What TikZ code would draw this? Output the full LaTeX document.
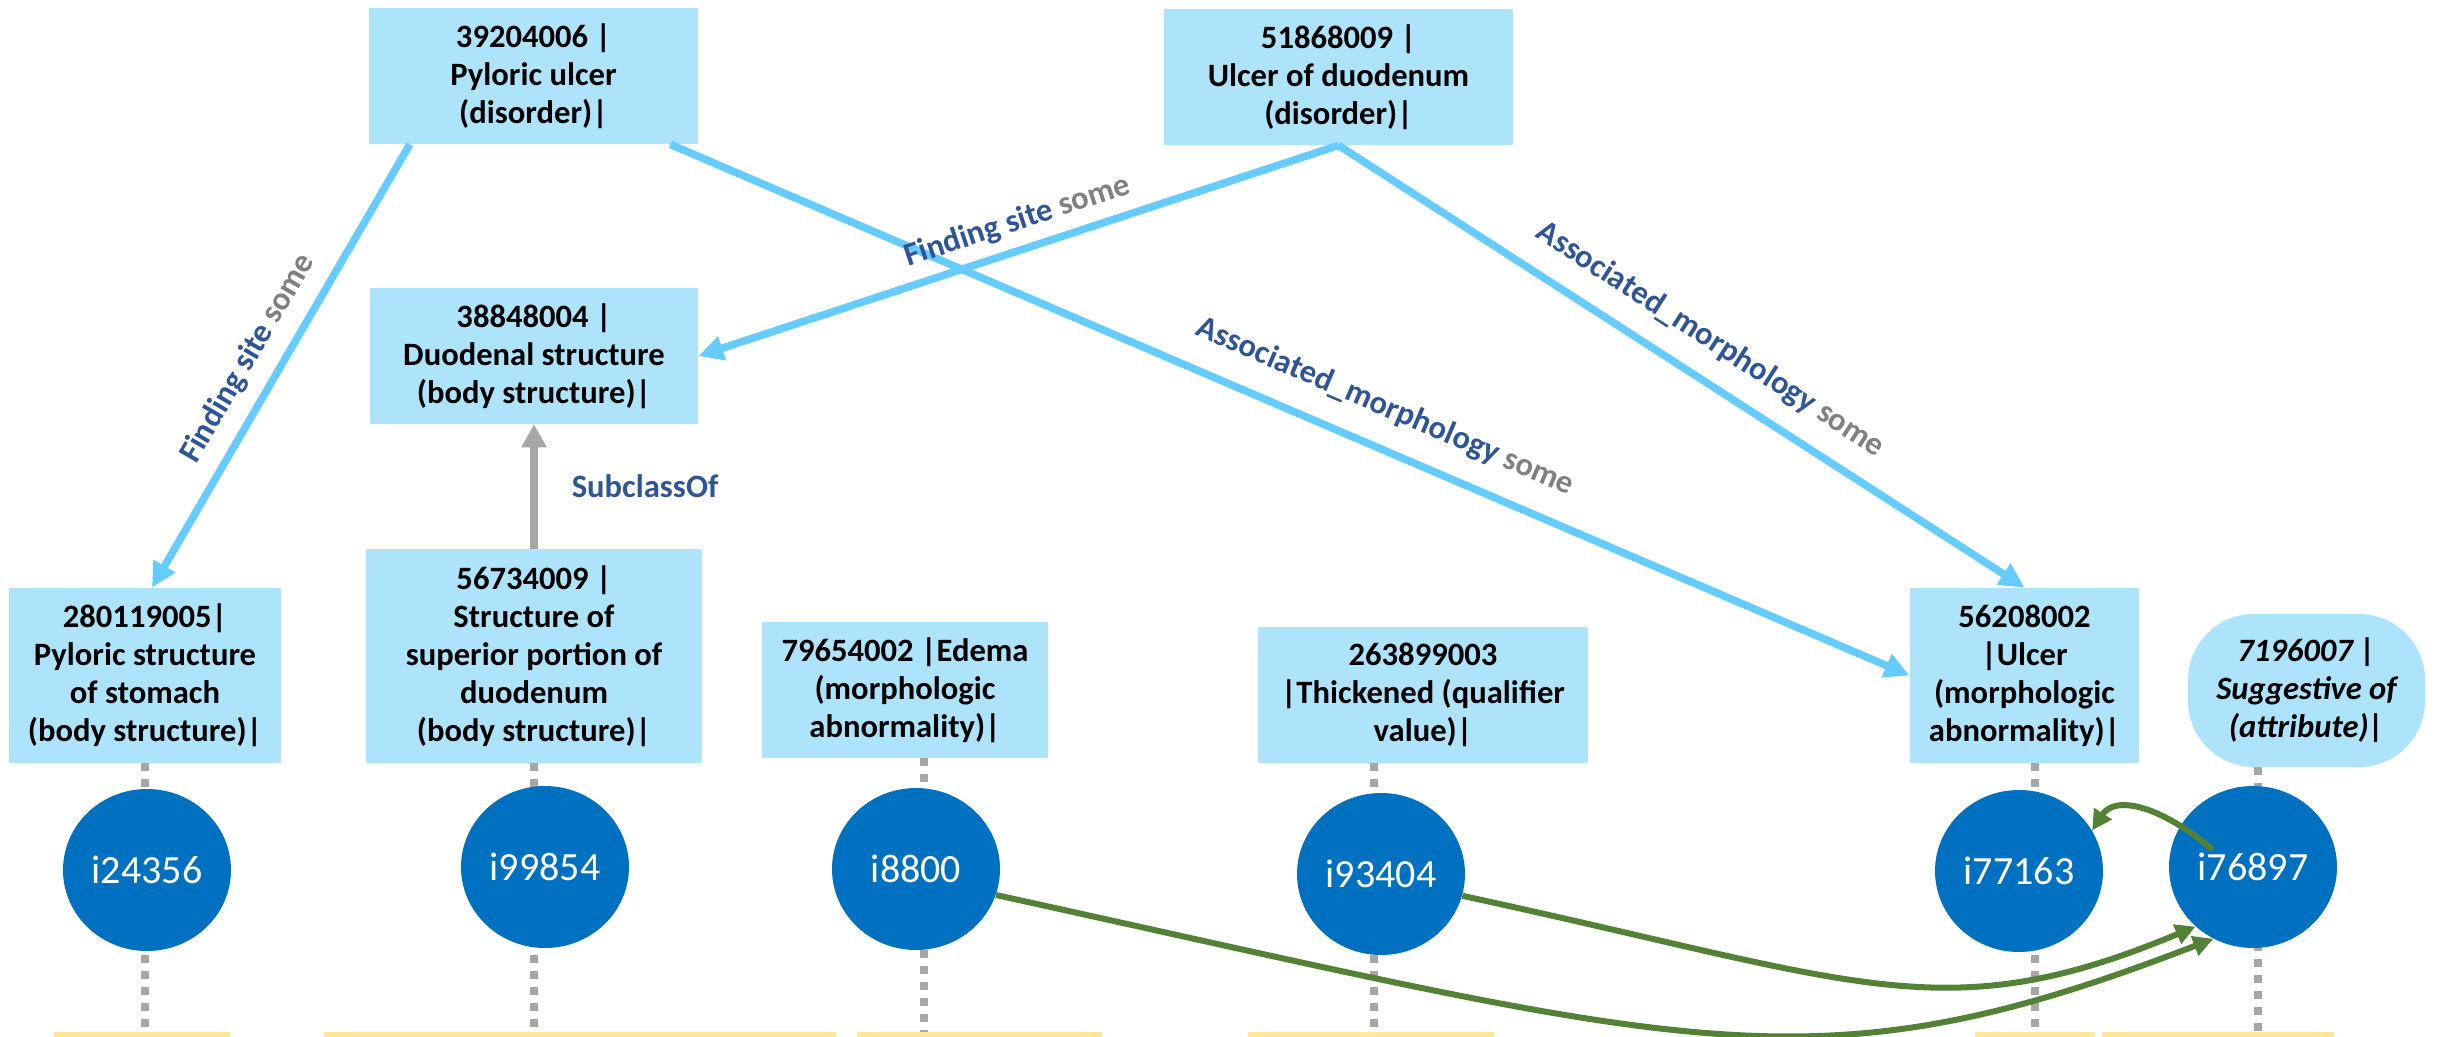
\documentclass[tikz,border=0pt]{standalone}
\usepackage{fontspec}
\setmainfont{Carlito}
\usetikzlibrary{arrows.meta,calc,shapes.geometric,backgrounds}
\definecolor{boxfill}{HTML}{AEE4FB}
\definecolor{indblue}{HTML}{0070C0}
\definecolor{relline}{HTML}{66CCFF}
\definecolor{reltext}{HTML}{2F5597}
\definecolor{sometext}{HTML}{808080}
\definecolor{dotgray}{HTML}{A6A6A6}
\definecolor{greenrel}{HTML}{538135}
\definecolor{baryellow}{HTML}{FFE699}
\newcommand{\relname}[1]{\textcolor{reltext}{#1}\ \textcolor{sometext}{some}}
\begin{document}
\begin{tikzpicture}[x=0.5pt,y=-0.5pt,
  concept/.style={rectangle,fill=boxfill,inner sep=0pt,align=center,
    font=\bfseries\fontsize{16.3pt}{19pt}\selectfont},
  attrib/.style={concept,rounded corners=33pt,
    font=\bfseries\itshape\fontsize{16.3pt}{19pt}\selectfont},
  indiv/.style={ellipse,fill=indblue,text=white,inner sep=0pt,
    minimum width=84pt,minimum height=81pt,font=\fontsize{20pt}{24pt}\selectfont},
  relarrow/.style={draw=relline,line width=3.8pt,-{Triangle[length=12.5pt,width=12pt]}},
  subarrow/.style={draw=dotgray,line width=3.8pt,-{Triangle[length=11.5pt,width=12pt]}},
  dotline/.style={draw=dotgray,line width=3.6pt,dash pattern=on 4pt off 4pt},
  indarrow/.style={draw=greenrel,line width=3pt,-{Triangle[length=10pt,width=10pt]}},
  rellabel/.style={sloped,inner sep=0pt,font=\bfseries\fontsize{16.3pt}{19pt}\selectfont},
  barstyle/.style={fill=baryellow,draw=none}
]
\useasboundingbox (0,0) rectangle (2451,1037);

% bottom bars
\fill[barstyle] (54,1032) rectangle (230,1037);
\fill[barstyle] (324,1032) rectangle (836,1037);
\fill[barstyle] (857,1032) rectangle (1102,1037);
\fill[barstyle] (1248,1032) rectangle (1494,1037);
\fill[barstyle] (1975,1032) rectangle (2095,1037);
\fill[barstyle] (2102,1032) rectangle (2334,1037);

% concepts
\node[concept,minimum width=164.5pt,minimum height=68pt] (A) at (533.5,76)
  {39204006 |\\Pyloric ulcer\\(disorder)|};
\node[concept,minimum width=174.5pt,minimum height=68pt] (B) at (1338.5,77)
  {51868009 |\\Ulcer of duodenum\\(disorder)|};
\node[concept,minimum width=164pt,minimum height=68pt] (D) at (534,356)
  {38848004 |\\Duodenal structure\\(body structure)|};
\node[concept,minimum width=136pt,minimum height=87.5pt] (C1) at (145,675.5)
  {280119005|\\Pyloric structure\\of stomach\\(body structure)|};
\node[concept,minimum width=168pt,minimum height=107pt] (C2) at (534,656)
  {56734009 |\\Structure of\\superior portion of\\duodenum\\(body structure)|};
\node[concept,minimum width=143pt,minimum height=68pt] (C3) at (905,690)
  {79654002 |Edema\\(morphologic\\abnormality)|};
\node[concept,minimum width=165pt,minimum height=68pt] (C4) at (1423,695)
  {263899003\\|Thickened (qualifier\\value)|};
\node[concept,minimum width=114.5pt,minimum height=87.5pt] (C5) at (2024.5,675.5)
  {56208002\\|Ulcer\\(morphologic\\abnormality)|};
\node[attrib,minimum width=118.5pt,minimum height=76.5pt] (C6) at (2306.5,690.5)
  {7196007 |\\Suggestive of\\(attribute)|};

% individuals
\node[indiv] (i1) at (147,870) {i24356};
\node[indiv] (i2) at (545,867) {i99854};
\node[indiv] (i3) at (916,869) {i8800};
\node[indiv] (i4) at (1381,874) {i93404};
\node[indiv] (i5) at (2019,871) {i77163};
\node[indiv] (i6) at (2253,867) {i76897};

% dotted type lines
\begin{pgfonlayer}{background}
\draw[dotline] (C1.south) -- (145,1033);
\draw[dotline] (C2.south) -- (534,1033);
\draw[dotline] ($(C3.south)+(19,0)$) -- (924,1033);
\draw[dotline] ($(C4.south)+(-49,0)$) -- (1374,1033);
\draw[dotline] ($(C5.south)+(10.5,0)$) -- (2035,1033);
\draw[dotline] ($(C6.south)+(-48.5,0)$) -- (2258,1033);
\end{pgfonlayer}

% relations between concepts
\coordinate (Aout1) at ($(A.south west)!0.125!(A.south east)$);
\coordinate (Aout2) at ($(A.south west)!0.915!(A.south east)$);
\draw[relarrow] (Aout1) -- ($(C1.north)+(7,0)$)
  node[rellabel,pos=0.52,above=7pt]{\relname{Finding site}};
\draw[relarrow] (Aout2) -- (C5.west)
  node[rellabel,pos=0.564,above=11pt]{\relname{Associated\_morphology}};
\draw[relarrow] (B.south) -- (D.east)
  node[rellabel,pos=0.488,above=5pt]{\relname{Finding site}};
\draw[relarrow] (B.south) -- (C5.north)
  node[rellabel,pos=0.512,above=10pt]{\relname{Associated\_morphology}};
\draw[subarrow] (C2.north) -- (D.south)
  node[pos=0.5,right=17pt,inner sep=0pt,text=reltext,
       font=\bfseries\fontsize{16.3pt}{19pt}\selectfont]{SubclassOf};

% relations between individuals
\draw[indarrow] (i3.-18) .. controls (1697,1049) and (1812,1094) .. (i6.241);
\draw[indarrow] (i4.-15) .. controls (1861,982) and (1943,1032) .. (i6.226);
\draw[indarrow] ($(i6.center)+(-40,-17)$) .. controls (2160,805) and (2115,795) .. (i5.29);
\end{tikzpicture}
\end{document}
